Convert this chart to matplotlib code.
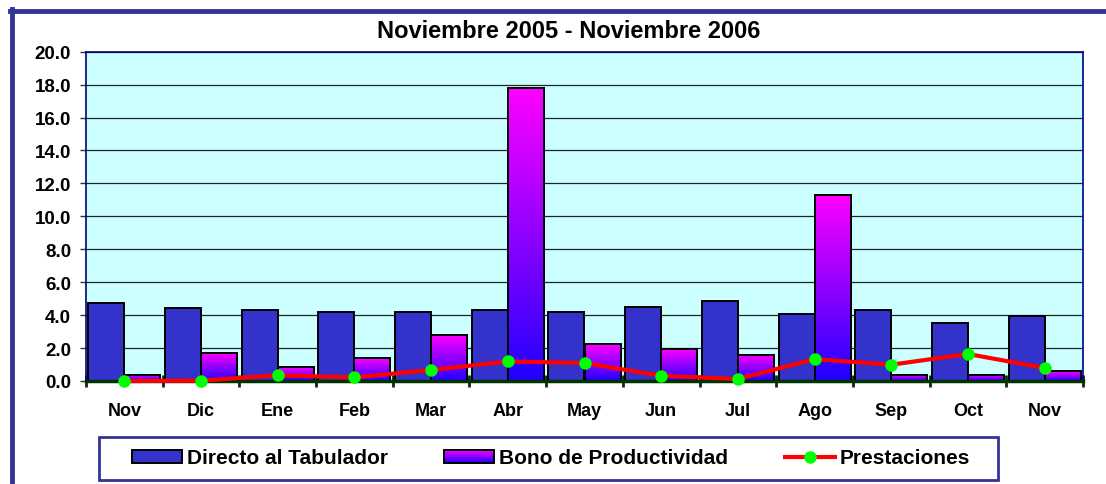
import numpy as np
import matplotlib
matplotlib.use('Agg')
import matplotlib.pyplot as plt
from matplotlib.colors import LinearSegmentedColormap
from matplotlib.patches import Rectangle, Patch
from matplotlib.lines import Line2D
from matplotlib.legend_handler import HandlerBase

plt.rcParams['font.family'] = ['Liberation Sans', 'DejaVu Sans']
plt.rcParams['font.weight'] = 'bold'

# ---- datos ----
meses = ['Nov', 'Dic', 'Ene', 'Feb', 'Mar', 'Abr', 'May', 'Jun', 'Jul', 'Ago', 'Sep', 'Oct', 'Nov']
directo = [4.75, 4.42, 4.30, 4.20, 4.20, 4.30, 4.20, 4.50, 4.85, 4.08, 4.30, 3.55, 3.96]
bono = [0.38, 1.68, 0.83, 1.38, 2.77, 17.8, 2.22, 1.92, 1.58, 11.3, 0.38, 0.38, 0.60]
prestaciones = [0.0, 0.02, 0.35, 0.22, 0.67, 1.19, 1.09, 0.32, 0.12, 1.33, 0.99, 1.64, 0.79]

W, H = 1106, 485
fig = plt.figure(figsize=(W / 100, H / 100), dpi=100)
ax = fig.add_axes([86 / W, 1 - 382 / H, (1083 - 86) / W, (382 - 52.7) / H])
ax.set_facecolor('#CCFFFF')

cmap = LinearSegmentedColormap.from_list('bono', ['#2000FF', '#FF00FF'])
x = np.arange(len(meses))
w = 0.47

# Directo al Tabulador
ax.bar(x - w / 2, directo, w, color='#3333CC', edgecolor='black', linewidth=1.4, zorder=2)

# Bono de Productividad (degradado)
grad = np.linspace(0, 1, 256).reshape(-1, 1)
for xi, v in zip(x, bono):
    ax.imshow(grad, cmap=cmap, aspect='auto', origin='lower',
              extent=(xi, xi + w, 0, v), zorder=2.5, interpolation='bilinear')
ax.bar(x + w / 2, bono, w, facecolor='none', edgecolor='black', linewidth=1.4, zorder=3)

# Prestaciones
ax.plot(x, prestaciones, color='#FF0000', linewidth=3, marker='o', markersize=8,
        markerfacecolor='#00FF00', markeredgecolor='#00FF00', zorder=5, clip_on=False)

ax.set_xlim(-0.5, len(meses) - 0.5)
ax.set_ylim(0, 20)
ax.set_yticks(np.arange(0, 21, 2))
ax.set_yticklabels([f'{v:.1f}' for v in np.arange(0, 21, 2)], fontsize=13.5, fontweight='bold')
ax.yaxis.grid(True, color='#222222', linewidth=0.9, zorder=0)
ax.set_axisbelow(True)
ax.tick_params(axis='y', length=4.3, width=1, color='#333333', pad=6.5)

ax.set_xticks(np.arange(-0.5, len(meses), 1))
ax.set_xticklabels([])
ax.tick_params(axis='x', which='major', direction='inout', length=9, width=2, color='#003300')
ax.set_xticks(x, minor=True)
ax.set_xticklabels(meses, minor=True, fontsize=13, fontweight='bold')
ax.tick_params(axis='x', which='minor', length=0, pad=15)

for s in ['top', 'left', 'right']:
    ax.spines[s].set_color('#000080')
    ax.spines[s].set_linewidth(1.2)
ax.spines['bottom'].set_color('#003300')
ax.spines['bottom'].set_linewidth(2.5)
ax.spines['bottom'].set_zorder(4)

fig.text(569 / W, 1 - 31 / H, 'Noviembre 2005 - Noviembre 2006', ha='center', va='center',
         fontsize=17, fontweight='bold')

# marco exterior
fig.add_artist(Line2D([10 / W, 1], [1 - 12 / H] * 2, transform=fig.transFigure,
                      color='#333399', linewidth=3.5))
fig.add_artist(Line2D([12 / W] * 2, [0, 1 - 10 / H], transform=fig.transFigure,
                      color='#333399', linewidth=3.5))


class GradientHandler(HandlerBase):
    def create_artists(self, legend, orig_handle, xdescent, ydescent, width, height, fontsize, trans):
        arts = []
        n = 24
        for k in range(n):
            arts.append(Rectangle((-xdescent, -ydescent + height * k / n), width, height / n + 0.3,
                                  facecolor=cmap(k / (n - 1)), edgecolor='none', transform=trans))
        arts.append(Rectangle((-xdescent, -ydescent), width, height, facecolor='none',
                              edgecolor='black', linewidth=1.4, transform=trans))
        return arts


h1 = Patch(facecolor='#3333CC', edgecolor='black', linewidth=1.4)
h2 = Patch(facecolor='#FF00FF')
h3 = Line2D([], [], color='#FF0000', linewidth=3, marker='o', markersize=8,
            markerfacecolor='#00FF00', markeredgecolor='#00FF00')
fig.legend([h1, h2, h3], ['Directo al Tabulador', 'Bono de Productividad', 'Prestaciones'],
           handler_map={h2: GradientHandler()}, ncol=3, loc='center',
           bbox_to_anchor=(551 / W, 1 - 459 / H), frameon=False,
           prop={'size': 15, 'weight': 'bold'}, handlelength=2.4, handleheight=0.6,
           handletextpad=0.25, columnspacing=2.7)
fig.add_artist(Rectangle((99 / W, 1 - 481 / H), 899 / W, 43 / H, fill=False,
                         edgecolor='#333399', linewidth=2, transform=fig.transFigure))

fig.savefig('out.png', dpi=100)
